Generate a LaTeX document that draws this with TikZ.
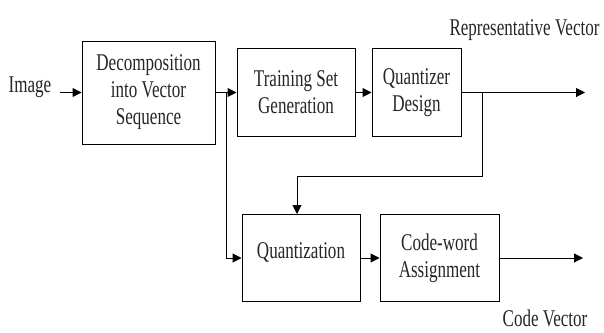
\documentclass[tikz,border=0pt]{standalone}
\usepackage{fontspec}
\setmainfont[FakeStretch=0.71]{Liberation Serif}
\usetikzlibrary{arrows.meta}
\begin{document}
\begin{tikzpicture}[x=1pt,y=-1pt,
  txt/.style={font=\fontsize{24}{27}\selectfont, text=black!85, inner sep=1pt},
  blk/.style={draw, line width=1pt, inner sep=0pt, align=center, txt},
  ln/.style={line width=1pt},
  arr/.style={ln, -{Triangle[length=9pt,width=9pt]}}]
\useasboundingbox (0,0) rectangle (604,332);
\node[blk, minimum width=133pt, minimum height=103pt] (b1) at (148.5,92.5) {Decomposition\\into Vector\\Sequence};
\node[blk, minimum width=118pt, minimum height=88pt] (b2) at (296,92.5) {Training Set\\Generation};
\node[blk, minimum width=89pt, minimum height=88pt] (b3) at (416.5,92.5) {Quantizer\\Design};
\node[blk, minimum width=118pt, minimum height=87pt, text height=10pt, text depth=10pt] (b4) at (301,258) {Quantization};
\node[blk, minimum width=119pt, minimum height=87pt] (b5) at (439.5,258) {Code-word\\Assignment};
\node[txt, anchor=base] (img) at (30,92) {Image};
\node[txt, anchor=base] (rv) at (524.5,35) {Representative Vector};
\node[txt, anchor=base] (cv) at (545,326) {Code Vector};
\coordinate (s0) at (60,92.5);
\coordinate (j1) at (226,92.5);
\coordinate (j2) at (482,92.5);
\coordinate (k2) at (482,176);
\coordinate (e1) at (585,92.5);
\coordinate (e2) at (583,258);
\draw[arr] (s0) -- (b1.west);
\draw[arr] (b1.east) -- (b2.west);
\draw[arr] (b2.east) -- (b3.west);
\draw[arr] (b3.east) -- (e1);
\draw[arr] (j1) |- (b4.west);
\draw[arr] (j2) -- (k2) -| ([xshift=-4pt]b4.north);
\draw[arr] (b4.east) -- (b5.west);
\draw[arr] (b5.east) -- (e2);
\end{tikzpicture}
\end{document}
